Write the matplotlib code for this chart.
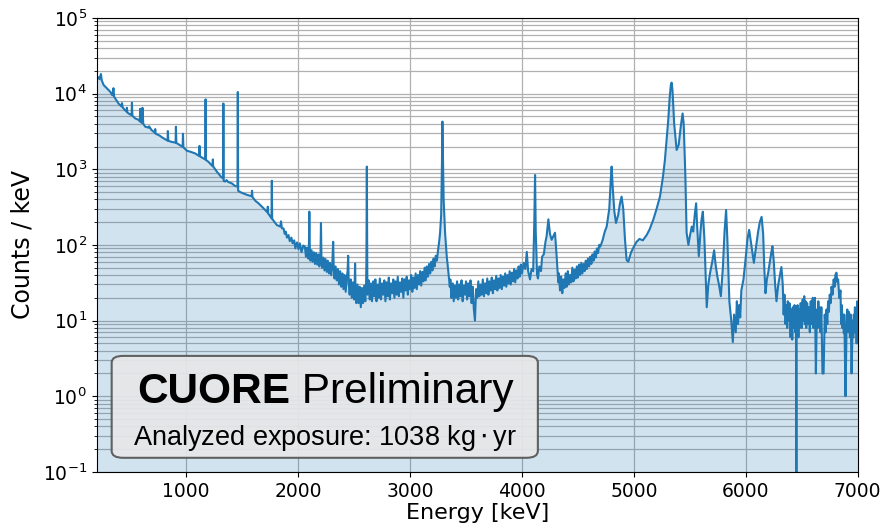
import numpy as np
import matplotlib
matplotlib.use("Agg")
import matplotlib.pyplot as plt
from matplotlib.patches import FancyBboxPatch

# spectrum: (energy keV, counts / keV)
spectrum_gamma = [
    (200, 15800), (215, 16500), (225, 15500), (238, 18200), (245, 15000), (262, 13000),
    (290, 11800), (321, 10600), (340, 9500), (350, 11800), (356, 9100), (380, 8000),
    (395, 7400), (420, 6800), (426, 7500), (432, 6600), (450, 6100), (466, 5800),
    (470, 6500), (475, 5600), (500, 5300), (512, 5200), (515, 7600), (519, 5100),
    (545, 4700), (574, 4500), (585, 4300), (589, 6300), (595, 4200), (605, 4100),
    (609, 6500), (616, 4000), (634, 3650), (664, 3550), (668, 3700), (690, 3300),
    (720, 3050), (723, 3400), (727, 2950), (760, 2800), (783, 2650), (810, 2500),
    (833, 2400), (836, 3200), (840, 2380), (870, 2300), (905, 2250), (908, 3650),
    (912, 2230), (940, 2100), (968, 1980), (971, 2950), (975, 1950), (1006, 1760),
    (1040, 1700), (1080, 1620), (1115, 1500), (1119, 2040), (1123, 1480), (1150, 1400),
    (1170, 1350), (1173, 8400), (1176, 1330), (1200, 1250), (1235, 1100), (1238, 1350),
    (1241, 1090), (1274, 930), (1313, 790), (1329, 760), (1332, 7400), (1335, 700),
    (1349, 690), (1360, 720), (1375, 680), (1408, 650), (1438, 600), (1458, 590),
    (1461, 10500), (1464, 520), (1482, 500), (1510, 480), (1542, 460), (1585, 440),
    (1588, 520), (1592, 430), (1620, 380), (1646, 355), (1691, 305), (1725, 270),
    (1729, 320), (1733, 260), (1762, 225), (1765, 705), (1768, 222), (1790, 200),
    (1810, 183), (1840, 175), (1847, 205), (1855, 166), (1870, 165), (1880, 140),
    (1890, 150), (1900, 125), (1914, 135), (1925, 112), (1940, 125), (1950, 105),
    (1965, 115), (1975, 90), (1990, 108), (2003, 88), (2015, 105), (2030, 80),
    (2045, 98), (2060, 95), (2070, 70), (2080, 92), (2090, 66), (2096, 90),
    (2100, 275), (2104, 95), (2110, 62), (2120, 85), (2130, 60), (2140, 80),
    (2150, 56), (2160, 78), (2170, 55), (2180, 75), (2190, 52), (2200, 80),
    (2204, 195), (2208, 70), (2215, 50), (2225, 68), (2235, 46), (2245, 65),
    (2255, 44), (2265, 62), (2275, 42), (2285, 58), (2295, 40), (2305, 55),
    (2313, 110), (2318, 48), (2325, 36), (2335, 52), (2345, 34), (2355, 48),
    (2365, 30), (2375, 45), (2385, 28), (2395, 42), (2405, 26), (2415, 40),
    (2425, 24), (2435, 38), (2442, 45), (2447, 72), (2452, 32), (2460, 22),
    (2470, 35), (2480, 20), (2490, 32), (2500, 19), (2505, 30), (2509, 57),
    (2513, 24), (2520, 17), (2530, 30), (2540, 17), (2550, 28), (2560, 15),
    (2570, 27), (2580, 17), (2590, 29), (2600, 18), (2607, 30), (2610, 60),
    (2614, 1085), (2618, 40),
]

spectrum_flat = [
    (2620, 22), (2630, 34), (2640, 19), (2650, 31), (2660, 18), (2670, 33), (2680, 21),
    (2690, 35), (2700, 18), (2710, 30), (2720, 20), (2730, 36), (2740, 19), (2750, 31),
    (2760, 22), (2770, 34), (2780, 18), (2790, 32), (2800, 21), (2810, 37), (2820, 19),
    (2830, 31), (2840, 23), (2850, 35), (2860, 20), (2870, 33), (2880, 22), (2890, 38),
    (2900, 21), (2910, 32), (2920, 24), (2930, 36), (2940, 20), (2950, 35), (2960, 25),
    (2970, 38), (2980, 22), (2990, 34), (3000, 26), (3010, 40), (3020, 24), (3030, 37),
    (3040, 27), (3050, 42), (3060, 26), (3070, 40), (3080, 30), (3090, 45), (3100, 29),
    (3110, 44), (3120, 33), (3130, 50), (3140, 34), (3150, 52), (3160, 38), (3170, 56),
    (3180, 42), (3190, 60), (3200, 46), (3210, 66), (3220, 52), (3230, 72), (3240, 62),
    (3250, 85), (3260, 110), (3268, 143), (3278, 250), (3285, 1200), (3289, 4270),
    (3294, 1500), (3300, 400), (3313, 143), (3328, 70), (3343, 43), (3355, 28),
    (3360, 35), (3370, 20), (3380, 31), (3390, 18), (3400, 29), (3410, 20), (3420, 33),
    (3430, 19), (3440, 30), (3450, 21), (3460, 34), (3470, 18), (3480, 29), (3490, 22),
    (3500, 33), (3510, 19), (3520, 31), (3530, 21), (3540, 34), (3550, 17), (3560, 28),
    (3570, 14), (3580, 10), (3590, 26), (3600, 20), (3610, 33), (3620, 21), (3630, 30),
    (3640, 22), (3650, 35), (3660, 21), (3670, 31), (3680, 23), (3690, 36), (3700, 22),
    (3710, 33), (3720, 25), (3730, 37), (3740, 23), (3750, 34), (3760, 26), (3770, 39),
    (3780, 25), (3790, 36), (3800, 27), (3810, 40), (3820, 26), (3830, 38), (3840, 29),
    (3850, 42), (3860, 28), (3870, 40), (3880, 31), (3890, 45), (3900, 30), (3910, 43),
    (3920, 33), (3930, 48), (3940, 32), (3950, 46), (3960, 36), (3970, 52), (3980, 38),
    (3990, 55), (4000, 42), (4015, 58), (4030, 48), (4043, 81), (4055, 45), (4072, 35),
    (4085, 48), (4100, 45), (4110, 200), (4117, 840), (4123, 150), (4135, 40),
    (4143, 36), (4155, 52), (4170, 45), (4180, 70), (4195, 75), (4210, 110),
    (4220, 130), (4236, 218), (4250, 140), (4265, 117), (4280, 130), (4295, 145),
    (4310, 70), (4320, 40), (4325, 32),
    (4330, 42), (4340, 25), (4350, 38), (4360, 23), (4370, 35), (4380, 27), (4390, 42),
    (4400, 28), (4410, 45), (4420, 30), (4430, 40), (4440, 32), (4450, 50), (4460, 33),
    (4470, 47), (4480, 36), (4490, 52), (4500, 37), (4510, 55), (4520, 40), (4530, 58),
    (4540, 42), (4550, 56), (4560, 45), (4570, 62), (4580, 48), (4590, 66), (4600, 52),
    (4610, 70), (4620, 56), (4630, 75), (4640, 62), (4650, 82), (4660, 68), (4670, 90),
    (4680, 78), (4690, 100),
]

spectrum_alpha = [
    (4700, 95), (4720, 115), (4740, 150), (4757, 175), (4780, 300), (4793, 700),
    (4801, 1085), (4810, 600), (4825, 280), (4840, 195), (4860, 250), (4875, 350),
    (4890, 435), (4905, 300), (4920, 120), (4935, 63), (4950, 60), (4975, 80),
    (5000, 95), (5024, 110), (5050, 120), (5080, 115), (5114, 135), (5140, 160),
    (5173, 215), (5200, 290), (5233, 435), (5260, 800), (5277, 1320), (5295, 2800),
    (5307, 4470), (5320, 9000), (5330, 13000), (5337, 14000), (5345, 11000), (5360, 4000),
    (5382, 1800), (5400, 2100), (5420, 3800), (5435, 5470), (5445, 4000), (5460, 800),
    (5471, 145), (5487, 100), (5500, 130), (5517, 175), (5530, 150), (5545, 260),
    (5556, 355), (5565, 180), (5580, 71), (5595, 150), (5605, 220), (5616, 275),
    (5630, 120), (5651, 15), (5665, 30), (5681, 43), (5700, 60), (5717, 85),
    (5730, 55), (5746, 38), (5760, 30), (5777, 21), (5795, 50), (5810, 150),
    (5824, 290), (5835, 120), (5853, 18), (5870, 10), (5884, 5.2), (5895, 12),
    (5910, 7), (5920, 18), (5930, 9), (5940, 16), (5950, 11), (5960, 25), (5979, 35),
    (6000, 70), (6015, 120), (6030, 158), (6045, 110), (6060, 75), (6072, 58),
    (6090, 90), (6110, 150), (6125, 200), (6141, 235), (6155, 140), (6165, 50),
    (6176, 23), (6188, 35), (6200, 43), (6215, 60), (6228, 80), (6238, 96),
    (6250, 60), (6262, 30), (6274, 18), (6290, 30), (6305, 40), (6318, 51),
    (6330, 30), (6338, 12), (6345, 22), (6355, 9), (6363, 16), (6370, 8), (6375, 18),
    (6383, 10), (6390, 17), (6400, 6), (6408, 14), (6415, 5.6), (6420, 15), (6428, 8),
    (6435, 16), (6442, 7), (6448, 12), (6452, 0.05), (6454, 10), (6462, 16), (6470, 6),
    (6477, 14), (6483, 8), (6490, 17), (6500, 8), (6508, 19), (6515, 10), (6522, 21),
    (6527, 9), (6534, 18), (6540, 8), (6548, 17), (6555, 9), (6563, 15), (6572, 7),
    (6580, 18), (6590, 9), (6598, 20), (6605, 8), (6612, 16), (6618, 20), (6626, 2.0),
    (6635, 14), (6642, 8), (6648, 18), (6655, 9), (6660, 15), (6668, 7), (6675, 15),
    (6685, 2.0), (6695, 2.0), (6705, 12), (6713, 7), (6721, 14), (6728, 9), (6735, 18),
    (6742, 13), (6750, 22), (6758, 17), (6766, 28), (6775, 22), (6785, 35), (6793, 28),
    (6800, 40), (6810, 43), (6818, 32), (6825, 35), (6835, 20), (6846, 25), (6852, 9),
    (6858, 16), (6864, 8), (6870, 12), (6876, 6.8), (6880, 12), (6891, 1.0), (6900, 8),
    (6907, 14), (6915, 7), (6922, 13), (6930, 6), (6937, 12), (6945, 2.0), (6955, 10),
    (6960, 6), (6965, 12), (6970, 7), (6975, 15), (6980, 7), (6985, 12), (6990, 5),
    (6996, 18), (7000, 10),
]

x_ticks = [1000, 2000, 3000, 4000, 5000, 6000, 7000]

spectrum = spectrum_gamma + spectrum_flat + spectrum_alpha
energy_kev = np.array([p[0] for p in spectrum])
counts_per_kev = np.array([p[1] for p in spectrum])

fig = plt.figure(figsize=(8.87, 5.29), dpi=100)
ax = fig.add_axes([0.109, 0.108, 0.858, 0.858])

ax.fill_between(energy_kev, counts_per_kev, 1e-3, color='C0', alpha=0.2, lw=0)
ax.plot(energy_kev, counts_per_kev, color='C0', lw=1.5)

ax.set_yscale('log')
ax.set_xlim(200, 7000)
ax.set_ylim(1e-1, 1e5)
ax.set_xticks(x_ticks)
ax.grid(True, which='both', color='#b0b0b0', lw=0.9)
ax.set_axisbelow(True)
ax.tick_params(labelsize=13.5)
ax.set_xlabel('Energy [keV]', fontsize=16, labelpad=2)
ax.set_ylabel('Counts / keV', fontsize=17, labelpad=6)

# label box
box = FancyBboxPatch((0.0197, 0.031), 0.56, 0.2245, transform=ax.transAxes,
                     boxstyle='round,pad=0.0,rounding_size=0.015',
                     facecolor='#e6e7e8', edgecolor='#555555', lw=1.5, alpha=0.92, zorder=5)
ax.add_patch(box)
t1 = ax.text(0.053, 0.152, 'CUORE', transform=ax.transAxes, fontsize=30.5,
             fontweight='bold', family='Liberation Sans', va='baseline', ha='left', zorder=6)
fig.canvas.draw()
bb = t1.get_window_extent()
x_end = ax.transAxes.inverted().transform((bb.x1, bb.y0))[0]
ax.text(x_end, 0.152, ' Preliminary', transform=ax.transAxes, fontsize=30.5,
        family='Liberation Sans', va='baseline', ha='left', zorder=6)
ax.text(0.30, 0.074, r'Analyzed exposure: 1038 kg$\,{\cdot}\,$yr', transform=ax.transAxes,
        fontsize=19.5, family='Liberation Sans', va='center', ha='center', zorder=6)

fig.savefig('out.png', dpi=100)
